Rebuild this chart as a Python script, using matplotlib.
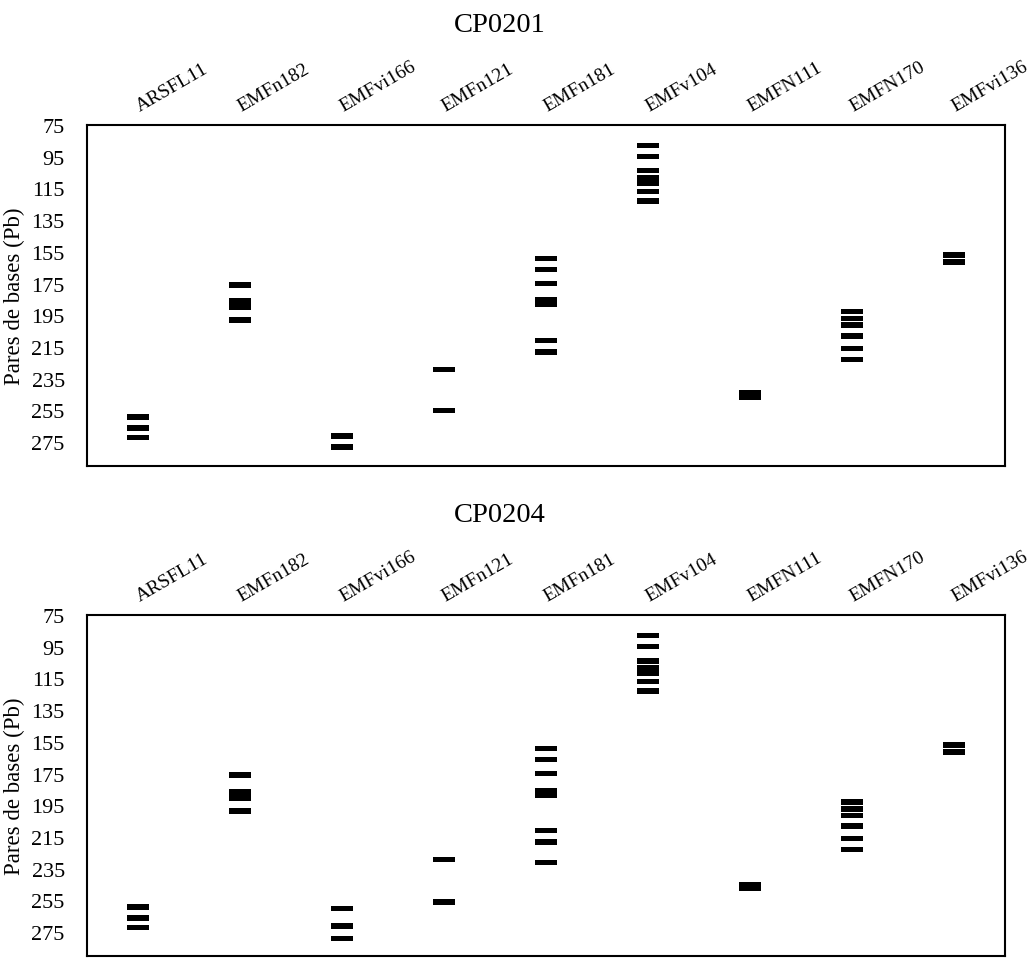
import matplotlib
matplotlib.use("Agg")
import matplotlib.pyplot as plt
import matplotlib.transforms as mtransforms

plt.rcParams['font.family'] = ['Liberation Serif', 'DejaVu Serif']

markers = ["ARSFL11", "EMFn182", "EMFvi166", "EMFn121", "EMFn181",
           "EMFv104", "EMFN111", "EMFN170", "EMFvi136"]
yticks = [75, 95, 115, 135, 155, 175, 195, 215, 235, 255, 275]

# Band sizes (pb) per marker, panel CP0201
cp0201_ARSFL11 = [259, 266, 272]
cp0201_EMFn182 = [176, 186, 188, 190, 198]
cp0201_EMFvi166 = [271, 278]
cp0201_EMFn121 = [229, 255]
cp0201_EMFn181 = [159, 166, 175, 185, 188, 211, 218]
cp0201_EMFv104 = [88, 95, 103.6, 108, 110, 112, 117, 123]
cp0201_EMFN111 = [244, 247]
cp0201_EMFN170 = [192.7, 197, 201.2, 208, 216, 223]
cp0201_EMFvi136 = [157, 161.3]

# Band sizes (pb) per marker, panel CP0204
cp0204_ARSFL11 = [259, 266, 272]
cp0204_EMFn182 = [176, 186.5, 188.5, 190.5, 198.5]
cp0204_EMFvi166 = [260, 271, 279]
cp0204_EMFn121 = [229, 256]
cp0204_EMFn181 = [159, 166, 175, 186, 188.5, 211, 218, 231]
cp0204_EMFv104 = [88, 95, 104, 108.5, 110.5, 112, 117, 123]
cp0204_EMFN111 = [245, 247.5]
cp0204_EMFN170 = [193, 197.2, 201.4, 208, 216, 223]
cp0204_EMFvi136 = [157, 161.3]

panels = [
    ("CP0201", [cp0201_ARSFL11, cp0201_EMFn182, cp0201_EMFvi166, cp0201_EMFn121,
                cp0201_EMFn181, cp0201_EMFv104, cp0201_EMFN111, cp0201_EMFN170,
                cp0201_EMFvi136]),
    ("CP0204", [cp0204_ARSFL11, cp0204_EMFn182, cp0204_EMFvi166, cp0204_EMFn121,
                cp0204_EMFn181, cp0204_EMFv104, cp0204_EMFN111, cp0204_EMFN170,
                cp0204_EMFvi136]),
]

W, H = 1031, 970
fig = plt.figure(figsize=(W / 100, H / 100), dpi=100)

axes_tops = [126, 616]
ax_h = 341
ax_left, ax_w = 87, 918
band_w = 0.214
band_h = 3.4

for (title, bands), top in zip(panels, axes_tops):
    ax = fig.add_axes([ax_left / W, 1 - (top + ax_h) / H, ax_w / W, ax_h / H])
    for i, vals in enumerate(bands):
        ax.bar([i] * len(vals), [band_h] * len(vals),
               bottom=[v - band_h / 2 for v in vals], width=band_w,
               color='black', edgecolor='none', linewidth=0)
    ax.set_xlim(-0.5, len(markers) - 0.5)
    ax.set_ylim(290, 75)
    ax.set_yticks(yticks)
    ax.set_yticklabels([str(t) for t in yticks], fontsize=16)
    ax.set_xticks([])
    ax.tick_params(axis='y', length=0, pad=16)
    for s in ax.spines.values():
        s.set_linewidth(1.5)
        s.set_color('black')
    trans = mtransforms.blended_transform_factory(ax.transData, ax.transAxes)
    for i, name in enumerate(markers):
        ax.annotate(name, xy=(i, 1.0), xycoords=trans, xytext=(1, 10),
                    textcoords='offset points', rotation=30,
                    rotation_mode='anchor', ha='left', va='baseline',
                    fontsize=14)
    fig.text(500 / W, 1 - (top - 94) / H, title, ha='center', va='baseline',
             fontsize=20.5)
    fig.text(14.5 / W, 1 - (top + ax_h / 2) / H, "Pares de bases (Pb)",
             rotation=90, ha='center', va='center', fontsize=16.5)

fig.savefig("out.png", dpi=100)
